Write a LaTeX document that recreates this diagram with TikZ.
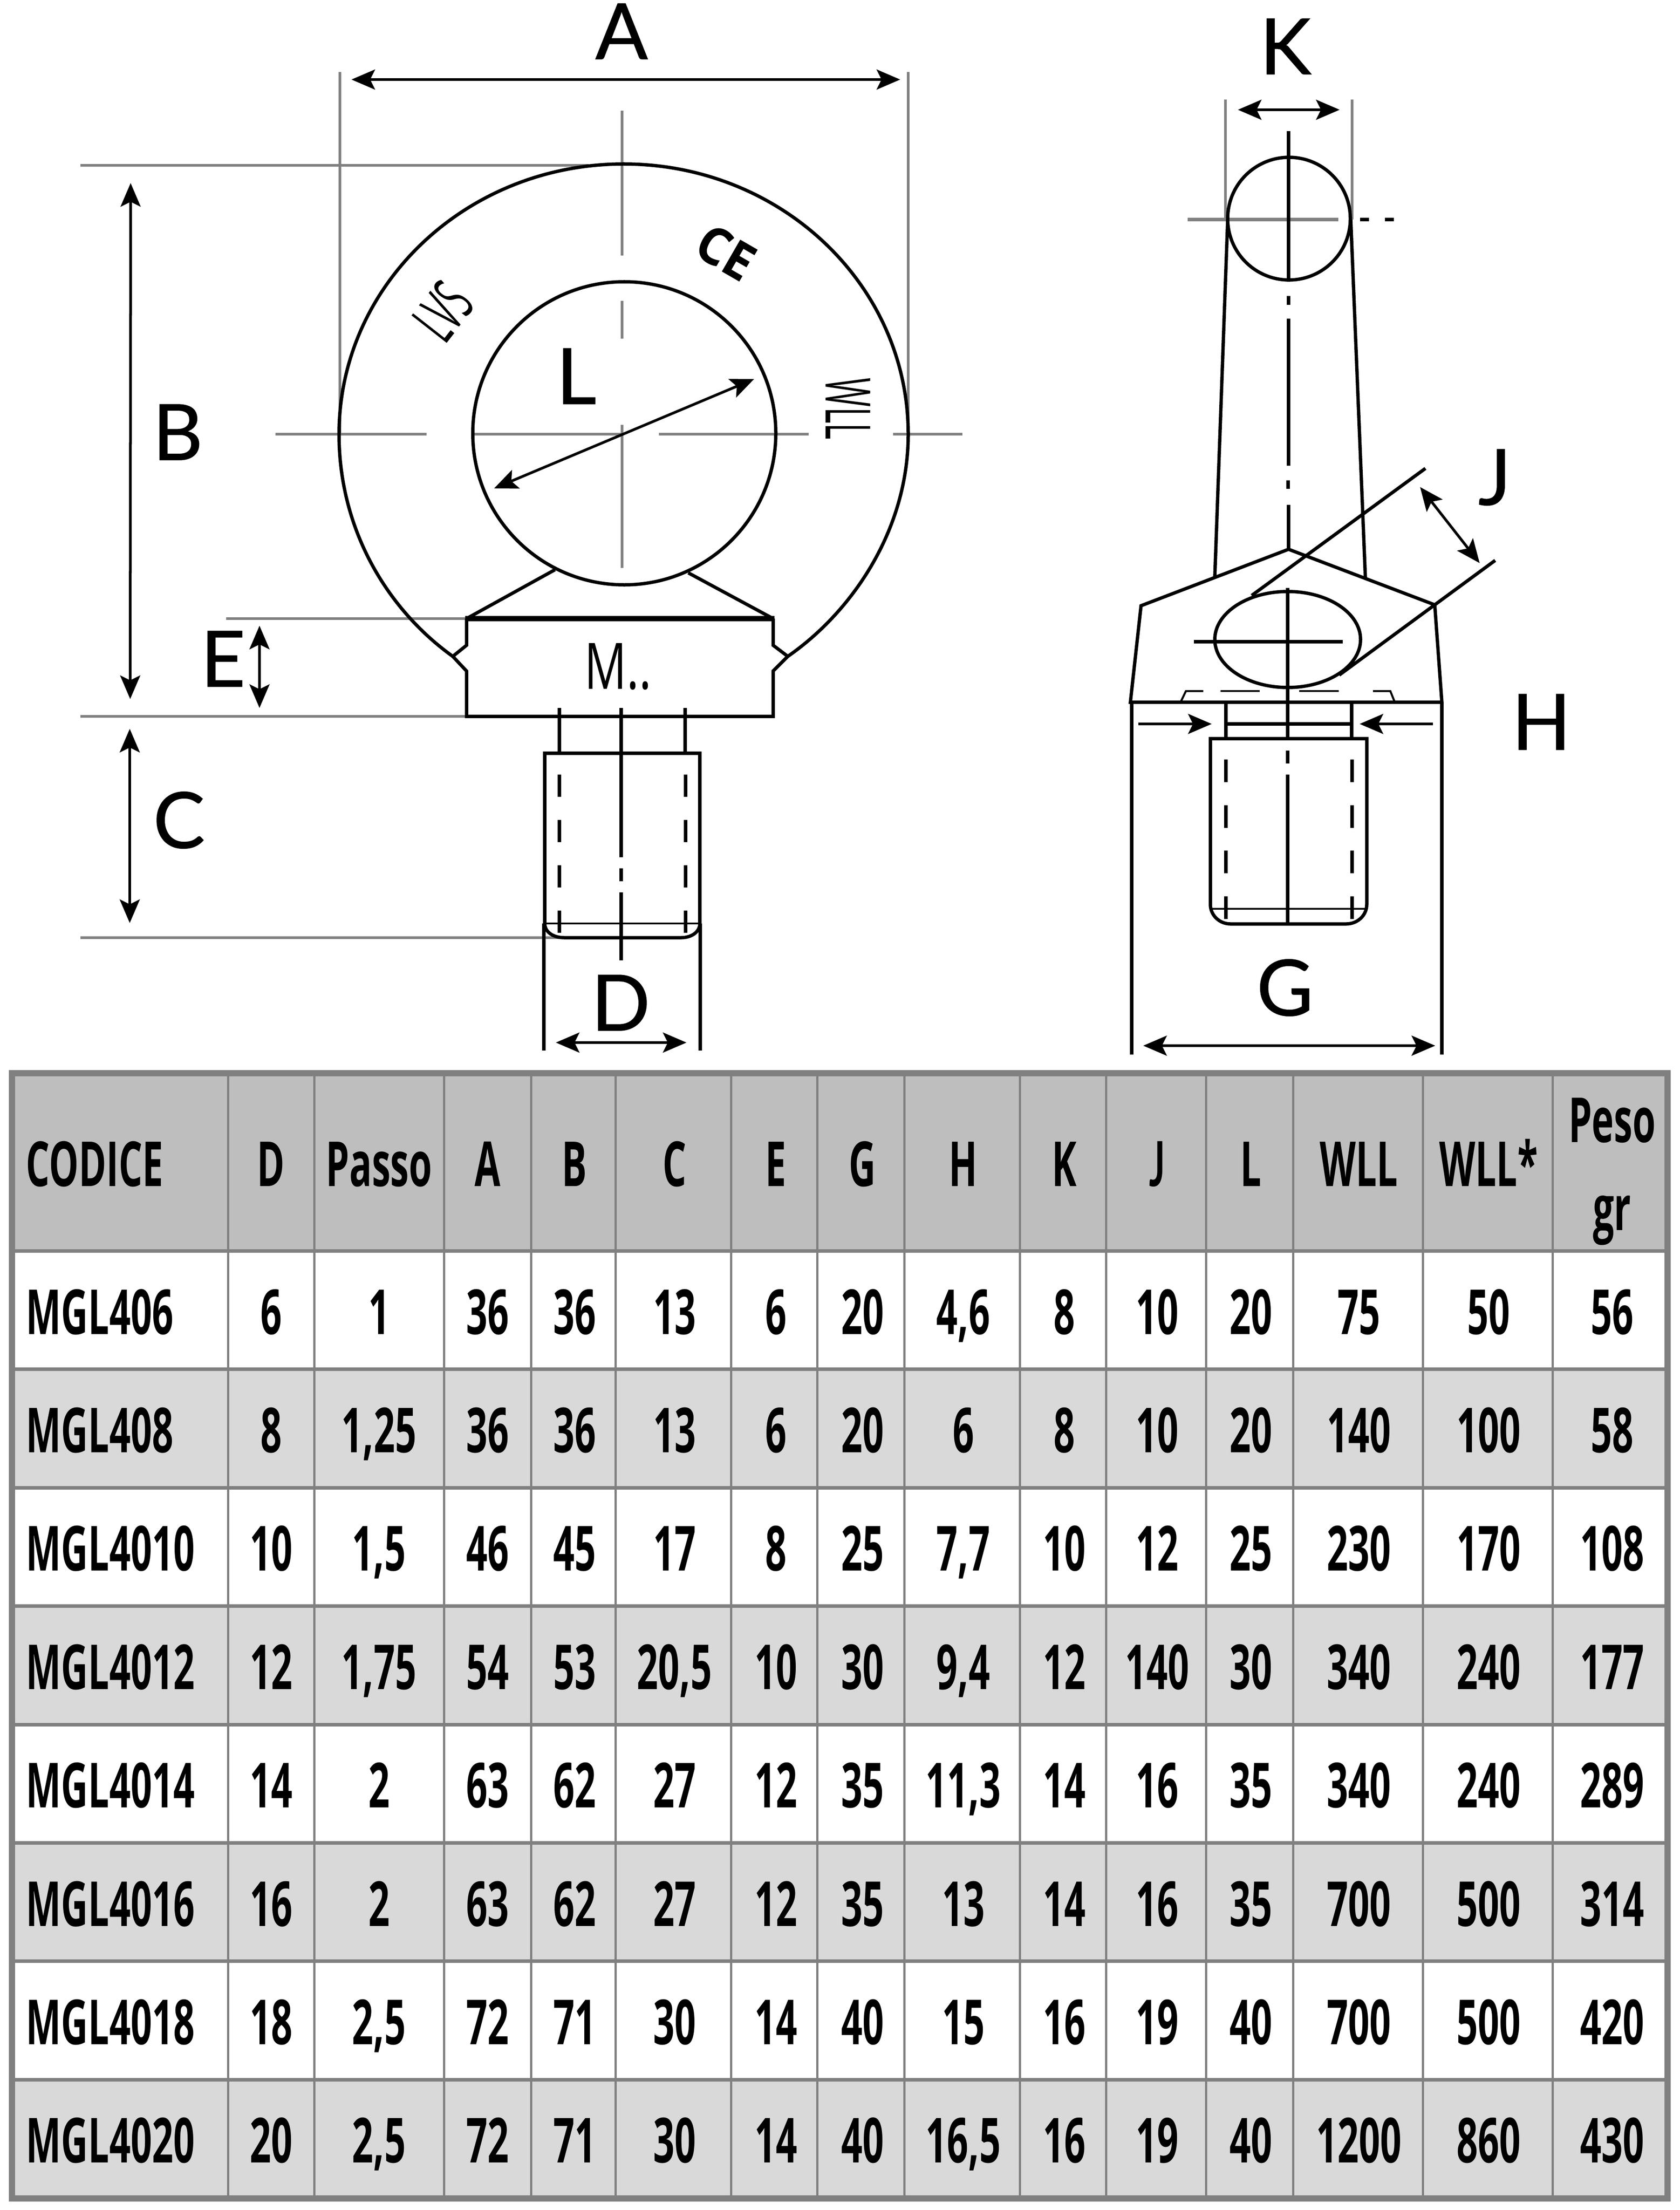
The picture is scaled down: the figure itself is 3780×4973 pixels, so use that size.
\documentclass[tikz,border=0pt]{standalone}
\usepackage{fontspec}
\setmainfont{Lato}
\newfontfamily\labelfam[FakeBold=0.8]{Lato}
\newfontfamily\tablefam[FakeStretch=0.6]{Open Sans}
\newfontfamily\jfam[FakeStretch=0.6]{Lato}
\newfontfamily\ringfam[FakeStretch=0.5]{Open Sans}
\newfontfamily\blockfam[FakeStretch=0.73]{Open Sans}
\newfontfamily\markfam[FakeStretch=0.95]{Open Sans}
\usetikzlibrary{arrows.meta}
\definecolor{rule}{HTML}{808080}
\definecolor{headfill}{HTML}{BEBEBE}
\definecolor{altfill}{HTML}{D9D9D9}
\begin{document}
\begin{tikzpicture}[x=0.01cm, y=-0.01cm, >={Stealth[length=5.3mm, width=4.5mm, inset=1.1mm]},
    main/.style = {draw=black, line width=.75mm, line join=miter},
    thinline/.style = {draw=black, line width=.45mm},
    guide/.style = {draw=rule, line width=.65mm},
    dim/.style = {draw=black, line width=.6mm},
    label/.style = {font=\labelfam\fontsize{49.6}{58}\selectfont, inner sep=0pt, anchor=base},
    cell/.style = {font=\tablefam\bfseries\fontsize{39.8}{48}\selectfont, inner sep=0pt, anchor=base},
    ring/.style = {font=\ringfam\fontsize{40}{48}\selectfont, inner sep=0pt}]
  \useasboundingbox (0,0) rectangle (3780,4973);
  \fill[white] (0,0) rectangle (3780,4973);

  % left view, guide lines
  \draw[guide] (181,372) -- (1325,372);
  \draw[guide] (509,1392) -- (1050,1392);
  \draw[guide] (181,1612) -- (1050,1612);
  \draw[guide] (181,2110) -- (1270,2110);
  \draw[guide] (765,162) -- (765,977);
  \draw[guide] (2044,162) -- (2044,977);
  \draw[guide] (1400,249) -- (1400,575);
  \draw[guide] (1400,677) -- (1400,762);
  \draw[guide] (1400,956) -- (1400,1278);
  \draw[guide] (620,977) -- (960,977);
  \draw[guide] (1064,977) -- (1397,977);
  \draw[guide] (1483,977) -- (1820,977);
  \draw[guide] (2010,977) -- (2166,977);

  % left view, eye and block
  \draw[main] (1019,1477) .. controls (870,1370) and (763,1190) .. (763,977)
    arc[start angle=180, end angle=360, x radius=640.5, y radius=608]
    .. controls (2044,1190) and (1920,1375) .. (1773,1477);
  \draw[main] (1405,975) circle[radius=341];
  \draw[main] (1050,1392) -- (1249,1282);
  \draw[main] (1740,1392) -- (1549,1289);
  \draw[main] (1050,1392) -- (1050,1452) -- (1019,1477) -- (1050,1510) -- (1050,1612)
    -- (1740,1612) -- (1740,1510) -- (1773,1477) -- (1740,1452) -- (1740,1392);
  \draw[draw=black, line width=1.2mm] (1047,1392) -- (1743,1392);

  % left view, shank
  \draw[main] (1259,1593) -- (1259,1695);
  \draw[main] (1542,1593) -- (1542,1695);
  \draw[main] (1226,2078) -- (1226,1695) -- (1575,1695) -- (1575,2078);
  \draw[main] (1226,2078) .. controls (1226,2098) and (1246,2110) .. (1270,2110)
    -- (1533,2110) .. controls (1555,2110) and (1575,2098) .. (1575,2078);
  \draw[thinline] (1226,2078) -- (1575,2078);
  \draw[main] (1224,2078) -- (1224,2364);
  \draw[main] (1576,2078) -- (1576,2364);
  \draw[main] (1398,1593) -- (1398,1929);
  \draw[main] (1398,1954) -- (1398,1983);
  \draw[main] (1398,2008) -- (1398,2161);
  \foreach \y in {1743,1845,1947,2049} {
    \draw[main] (1259,\y) -- (1259,\y+50);
    \draw[main] (1543,\y) -- (1543,\y+50);
  }

  % right view, centre lines
  \draw[guide] (2758,224) -- (2758,494);
  \draw[guide] (3043,224) -- (3043,494);
  \draw[guide, line width=.8mm] (2673,494) -- (3012,494);
  \draw[main, line width=.8mm] (3061,494) -- (3081,494);
  \draw[main, line width=.8mm] (3117,494) -- (3137,494);
  \draw[main] (2900,295) -- (2900,634);
  \draw[main] (2900,666) -- (2900,686);
  \draw[main] (2900,717) -- (2900,1048);
  \draw[main] (2899,1081) -- (2899,1100);
  \draw[main] (2900,1136) -- (2900,1236);

  % right view, eye and stem
  \draw[main] (2901,492) circle[radius=138];
  \draw[main] (2763,494) -- (2734,1298);
  \draw[main] (3040,494) -- (3073,1303);
  \draw[main] (2544,1580) -- (2568,1363) -- (2900,1236) -- (3229,1361) -- (3245,1580) -- cycle;
  \draw[main] (2817,1340) -- (3208,1054);
  \draw[main] (3014,1519) -- (3365,1261);
  \draw[main] (2898,1439) ellipse[x radius=164, y radius=108];
  \draw[main] (2687,1444) -- (3022,1444);
  \draw[main] (2898,1323) -- (2898,1664);

  % right view, washer marks
  \draw[thinline] (2657,1580) -- (2669,1555) -- (2708,1555);
  \draw[thinline] (2747,1555) -- (2835,1555);
  \draw[thinline] (2924,1555) -- (3013,1555);
  \draw[thinline] (3090,1555) -- (3129,1555) -- (3139,1580);

  % right view, shank
  \draw[main] (2547,1580) -- (2547,2373);
  \draw[main] (3245,1580) -- (3245,2373);
  \draw[main] (2759,1580) -- (2759,1662);
  \draw[main] (3042,1580) -- (3042,1662);
  \draw[main] (2759,1629) -- (3042,1629);
  \draw[main] (2724,2035) -- (2724,1662) -- (3076,1662) -- (3076,2035)
    .. controls (3076,2060) and (3055,2079) .. (3030,2079) -- (2769,2079)
    .. controls (2745,2079) and (2724,2060) .. (2724,2035);
  \draw[thinline] (2726,2045) -- (3074,2045);
  \draw[main] (2898,1689) -- (2898,1718);
  \draw[main] (2898,1743) -- (2898,2079);
  \foreach \y in {1709,1812,1914,2017} {
    \draw[main] (2759,\y) -- (2759,\y+51);
    \draw[main] (3043,\y) -- (3043,\y+51);
  }

  % dimension arrows
  \coordinate (a1) at (791,179);   \coordinate (a2) at (2026,179);
  \coordinate (b1) at (294,412);   \coordinate (b2) at (293,1573);
  \coordinate (c1) at (292,1640);  \coordinate (c2) at (292,2077);
  \coordinate (d1) at (1251,2346); \coordinate (d2) at (1545,2346);
  \coordinate (e1) at (584,1408);  \coordinate (e2) at (584,1593);
  \coordinate (l1) at (1112,1099); \coordinate (l2) at (1697,853);
  \coordinate (k1) at (2786,247);  \coordinate (k2) at (3015,247);
  \coordinate (j1) at (3196,1096); \coordinate (j2) at (3330,1267);
  \coordinate (g1) at (2573,2353); \coordinate (g2) at (3230,2353);
  \coordinate (h1) at (2562,1629); \coordinate (h2) at (2727,1629);
  \coordinate (h3) at (3225,1629); \coordinate (h4) at (3060,1629);
  \foreach \p/\q in {a1/a2, b1/b2, c1/c2, d1/d2, e1/e2, l1/l2, k1/k2, j1/j2, g1/g2}
    \draw[dim, <->] (\p) -- (\q);
  \draw[dim, ->] (h1) -- (h2);
  \draw[dim, ->] (h3) -- (h4);

  % letters
  \node[label] (A) at (1399,133) {A};
  \node[label] (B) at (400,1035) {B};
  \node[label] (C) at (403,1908) {C};
  \node[label] (D) at (1397,2319) {D};
  \node[label] (E) at (502,1545) {E};
  \node[label] (G) at (2892,2285) {G};
  \node[label] (H) at (3469,1687) {H};
  \node[label] (J) at (3364,1136) {J};
  \node[label] (K) at (2893,167) {K};
  \node[label] (L) at (1297,909) {L};
  \node[font=\blockfam\fontsize{41}{48}\selectfont, inner sep=0pt, anchor=base] (M) at (1391,1550) {M..};
  \node[ring, rotate=52] (lvs) at (997,701) {LVS};
  \node[ring, rotate=-90] (wll) at (1909,920) {WLL};
  \node[font=\markfam\bfseries\fontsize{33}{40}\selectfont, inner sep=0pt, rotate=-30] (ce) at (1634,568) {CE};

  % table
  \fill[headfill] (27,2415) rectangle (3753,2815);
  \foreach \r in {2,4,6,8}
    \fill[altfill] (27,{2815+266.4*(\r-1)}) rectangle (3753,{2815+266.4*\r});
  \foreach \r in {0,...,7}
    \draw[guide, line width=.8mm] (27,{2815+266.4*\r}) -- (3753,{2815+266.4*\r});
  \foreach \x in {513,707,999,1195,1385,1645,1839,2035,2295,2489,2714,2910,3202,3494}
    \draw[guide, line width=.5mm] (\x,2415) -- (\x,4947);
  \draw[guide, line width=1.4mm] (27,2415) rectangle (3753,4947);

  \foreach \x [count=\c from 2] in {610,853,1097,1293,1518,1746,1941,2168,2395,2604,2815,3058,3350,3628}
    \coordinate (col\c) at (\x,0);
  \node[cell, anchor=base west] (th1) at (58,2669) {CODICE};
  \foreach \v [count=\c from 2] in {D,Passo,A,B,C,E,G,H,K,{\jfam\bfseries J},L,WLL,WLL*}
    \path (col\c) ++(0,2669) node[cell] (th\c) {\v};
  \path (col15) ++(0,2570) node[cell] (peso) {Peso};
  \path (col15) ++(0,2768) node[cell] (gr) {gr};

  \foreach \code/\vals [count=\r] in {
      MGL406/{6,1,36,36,13,6,20,{4,6},8,10,20,75,50,56},
      MGL408/{8,{1,25},36,36,13,6,20,6,8,10,20,140,100,58},
      MGL4010/{10,{1,5},46,45,17,8,25,{7,7},10,12,25,230,170,108},
      MGL4012/{12,{1,75},54,53,{20,5},10,30,{9,4},12,140,30,340,240,177},
      MGL4014/{14,2,63,62,27,12,35,{11,3},14,16,35,340,240,289},
      MGL4016/{16,2,63,62,27,12,35,13,14,16,35,700,500,314},
      MGL4018/{18,{2,5},72,71,30,14,40,15,16,19,40,700,500,420},
      MGL4020/{20,{2,5},72,71,30,14,40,{16,5},16,19,40,1200,860,430}} {
    \pgfmathsetmacro\rowy{2815+266.4*(\r-1)+187}
    \node[cell, anchor=base west] (r\r c1) at (58,\rowy) {\code};
    \foreach \v [count=\c from 2] in \vals
      \path (col\c) ++(0,\rowy) node[cell] (r\r c\c) {\v};
  }
\end{tikzpicture}
\end{document}
